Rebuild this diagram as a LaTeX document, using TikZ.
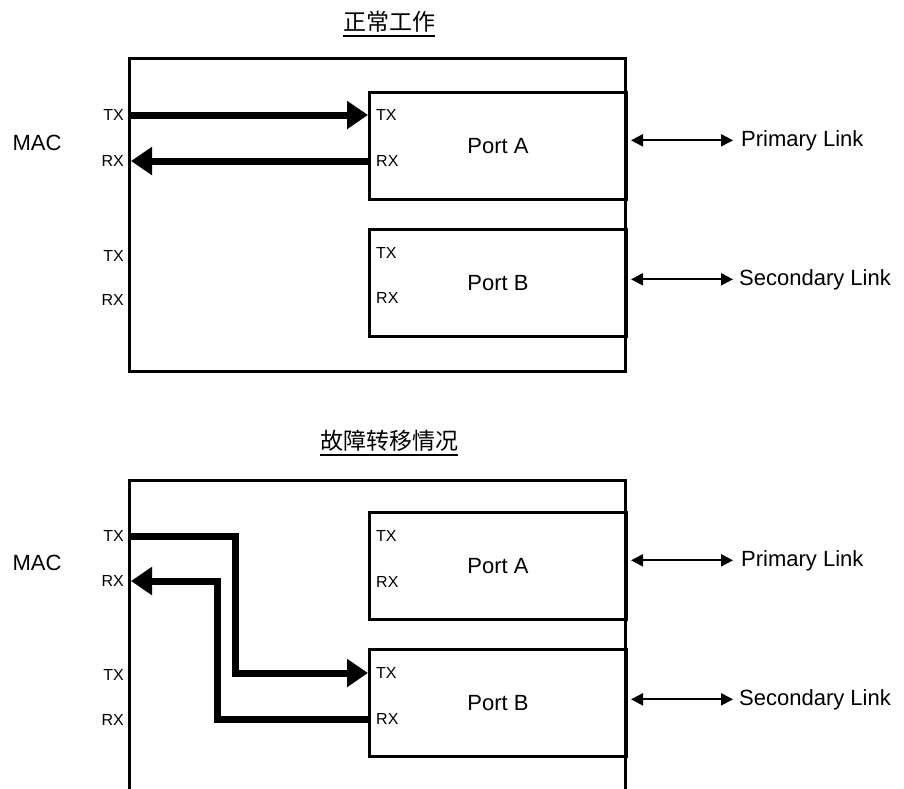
\documentclass[tikz,border=0pt]{standalone}
\usepackage{fontspec}
\setmainfont{Liberation Sans}
\newfontfamily\cjk{Noto Sans CJK SC}
\usetikzlibrary{arrows.meta,positioning}
\tikzset{
	frame/.style={line width=3pt},
	portbox/.style={draw, line width=3pt, anchor=north west, minimum width=257pt, minimum height=107pt, inner sep=0pt, font=\fontsize{22}{26}\selectfont},
	pin/.style={font=\fontsize{16}{18}\selectfont, inner ysep=1pt},
	pinl/.style={pin, anchor=east, inner xsep=7pt},
	pinr/.style={pin, anchor=west, inner xsep=8pt},
	big/.style={font=\fontsize{22}{26}\selectfont, inner sep=0pt},
	title/.style={font=\cjk\fontsize{23}{26}\selectfont, inner sep=0pt},
	under/.style={line width=1.5pt},
	bus/.style={line width=7pt, -{Triangle[length=21pt,width=27pt]}},
	link/.style={line width=2.2pt, {Triangle[length=12pt,width=12pt]}-{Triangle[length=12pt,width=12pt]}}
}
\begin{document}
\begin{tikzpicture}[x=1pt, y=-1pt, line join=miter]
	\useasboundingbox (0,0) rectangle (904,788);
	% normal operation
	\node[title] (tn) at (389,22) {正常工作};
	\draw[under] ([yshift=-3pt]tn.south west) -- ([yshift=-3pt]tn.south east);
	\draw[frame] (129,58) rectangle (625,371);
	\node[big] (macn) at (37,143) {MAC};
	\node[portbox] (pan) at (368,91) {Port A};
	\node[portbox] (pbn) at (368,228) {Port B};
	\foreach \y/\p [count=\i] in {115/TX,161/RX,256/TX,300/RX}
		\node[pinl] (nm\i) at (131,\y) {\p};
	\foreach \y/\p [count=\i] in {115/TX,161/RX,253/TX,298/RX}
		\node[pinr] (np\i) at (368,\y) {\p};
	\draw[bus] (nm1.east) -- (np1.west);
	\draw[bus] (np2.west) -- (nm2.east);
	\node[big, anchor=base west] (lpn) at (741,146) {Primary Link};
	\node[big, anchor=base west] (lsn) at (739,285) {Secondary Link};
	\draw[link] ([xshift=3pt]pan.east |- lpn.west) -- ([xshift=-8pt]lpn.west);
	\draw[link] ([xshift=3pt]pbn.east |- lsn.west) -- ([xshift=-6pt]lsn.west);
	% failover
	\node[title] (tf) at (389,441) {故障转移情况};
	\draw[under] ([yshift=-3pt]tf.south west) -- ([yshift=-3pt]tf.south east);
	\draw[frame] (129,790) -- (129,480) -- (625,480) -- (625,790);
	\node[big] (macf) at (37,563) {MAC};
	\node[portbox] (paf) at (368,511) {Port A};
	\node[portbox] (pbf) at (368,648) {Port B};
	\foreach \y/\p [count=\i] in {536/TX,581/RX,675/TX,720/RX}
		\node[pinl] (fm\i) at (131,\y) {\p};
	\foreach \y/\p [count=\i] in {536/TX,582/RX,673/TX,719/RX}
		\node[pinr] (fp\i) at (368,\y) {\p};
	\coordinate (txbend) at (235,0);
	\coordinate (rxbend) at (217,0);
	\draw[bus] (fm1.east) -| (txbend |- fp3.west) -- (fp3.west);
	\draw[bus] (fp4.west) -| (rxbend |- fm2.east) -- (fm2.east);
	\node[big, anchor=base west] (lpf) at (741,566) {Primary Link};
	\node[big, anchor=base west] (lsf) at (739,705) {Secondary Link};
	\draw[link] ([xshift=3pt]paf.east |- lpf.west) -- ([xshift=-8pt]lpf.west);
	\draw[link] ([xshift=3pt]pbf.east |- lsf.west) -- ([xshift=-6pt]lsf.west);
\end{tikzpicture}
\end{document}
